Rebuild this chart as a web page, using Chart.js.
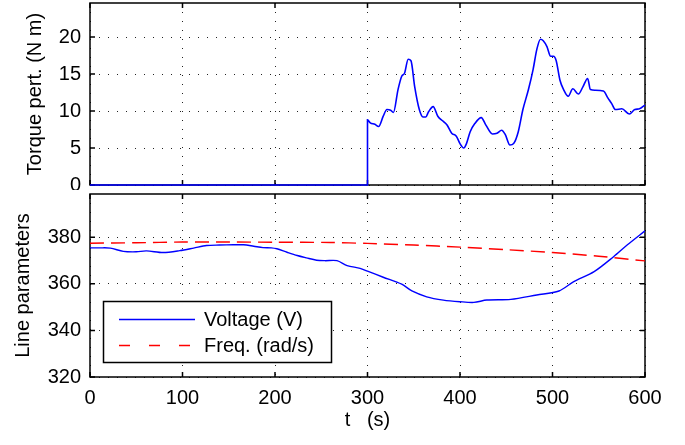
<!DOCTYPE html>
<html lang="en">
<head>
    <meta charset="UTF-8">
    <title>Torque perturbation and line parameters</title>
    <script src="https://cdn.jsdelivr.net/npm/chart.js"></script>
    <style>
        body {
            margin: 0;
            background: #fff;
            width: 685px;
            height: 445px;
            position: relative;
            overflow: hidden;
        }
        canvas {
            position: absolute;
            left: 0;
        }
        #topChart { top: 0; }
        #bottomChart { top: 190px; }
    </style>
</head>
<body>
    <canvas id="topChart" width="685" height="190"></canvas>
    <canvas id="bottomChart" width="685" height="255"></canvas>

    <script>
        // tick labels
        const timeTicks = [0, 100, 200, 300, 400, 500, 600];
        const torqueTicks = [0, 5, 10, 15, 20];
        const lineTicks = [320, 340, 360, 380];

        // torque perturbation (N m) vs time (s)
        const torqueT = [0, 300, 300, 303, 308, 312, 317, 321, 325, 328, 333, 337, 340, 344, 347, 351, 356, 360, 363, 366,
            371, 376, 382, 386, 391, 396, 400, 404, 407, 411, 416, 423, 428, 435, 440, 445, 449, 454, 458, 463,
            468, 474, 479, 483, 487, 490, 494, 498, 501, 504, 508, 512, 517, 522, 528, 533, 538, 541, 546, 555,
            560, 564, 568, 575, 583, 589, 594, 600];
        const torqueV = [0, 0, 8.8, 8.4, 8.2, 7.9, 9.3, 10.2, 10.1, 9.8, 12.9, 14.7, 15.1, 17.0, 16.8, 13.3, 10.2, 9.2, 9.2, 9.9,
            10.6, 9.3, 8.6, 8.1, 7.0, 6.6, 5.6, 5.0, 5.6, 7.2, 8.3, 9.1, 8.1, 6.9, 7.0, 7.4, 6.8, 5.4, 5.6, 7.2,
            10.2, 12.9, 15.6, 18.3, 19.7, 19.5, 18.7, 17.4, 17.4, 16.8, 14.2, 12.9, 12.0, 13.0, 12.3, 13.3, 14.4, 12.9, 12.8, 12.7,
            11.75, 11.0, 10.2, 10.3, 9.6, 10.2, 10.3, 10.8];

        // voltage (V) vs time (s)
        const voltT = [0, 10, 22, 36, 50, 61, 79, 97, 112, 126, 140, 155, 166, 177, 187, 196, 202, 213, 224, 234,
            245, 254, 267, 278, 292, 300, 317, 337, 348, 364, 382, 400, 415, 429, 455, 483, 507, 523, 545, 566, 581, 600];
        const voltV = [375.4, 375.4, 375.3, 373.9, 373.7, 374.1, 373.4, 374.2, 375.3, 376.4, 376.6, 376.7, 376.7, 376.1, 375.5, 375.4, 375.0, 373.5, 372.1, 371.1,
            370.1, 369.9, 369.9, 367.8, 366.6, 365.4, 362.8, 359.8, 356.9, 354.4, 353.0, 352.3, 352.0, 353.0, 353.3, 355.2, 356.9, 360.9, 365.2, 371.6, 376.7, 382.7];

        // frequency (rad/s) vs time (s)
        const freqT = [0, 50, 100, 150, 200, 260, 300, 350, 400, 450, 500, 550, 600];
        const freqV = [377.4, 377.6, 377.9, 377.9, 377.8, 377.7, 377.3, 376.6, 375.7, 374.6, 373.4, 371.8, 369.8];

        const FONT = { family: '"Liberation Sans", Arial, sans-serif', size: 20 };
        Chart.defaults.font.family = FONT.family;
        Chart.defaults.color = '#000';

        function points(t, v) {
            return t.map((x, i) => ({ x: x, y: v[i] }));
        }

        function useTicks(list) {
            return function (scale) {
                scale.ticks = list.map(v => ({ value: v }));
            };
        }

        // box round the plot area and small inward ticks, MATLAB style
        const framePlugin = {
            id: 'frame',
            beforeDatasetsDraw(chart) {
                const { ctx, chartArea: a, scales } = chart;
                ctx.save();
                ctx.strokeStyle = '#000';
                ctx.lineWidth = 1.5;
                ctx.beginPath();
                scales.x.ticks.forEach(t => {
                    const px = scales.x.getPixelForValue(t.value);
                    ctx.moveTo(px, a.bottom); ctx.lineTo(px, a.bottom - 5);
                    ctx.moveTo(px, a.top); ctx.lineTo(px, a.top + 5);
                });
                scales.y.ticks.forEach(t => {
                    const py = scales.y.getPixelForValue(t.value);
                    ctx.moveTo(a.left, py); ctx.lineTo(a.left + 5, py);
                    ctx.moveTo(a.right, py); ctx.lineTo(a.right - 5, py);
                });
                ctx.stroke();
                ctx.strokeRect(a.left, a.top, a.right - a.left, a.bottom - a.top);
                ctx.restore();
            }
        };

        // legend box inside the lower plot
        const boxLegend = {
            id: 'boxLegend',
            afterDraw(chart) {
                const ctx = chart.ctx;
                const box = { x: 103.5, y: 111.5, w: 228, h: 61 };
                ctx.save();
                ctx.fillStyle = '#fff';
                ctx.fillRect(box.x, box.y, box.w, box.h);
                ctx.strokeStyle = '#000';
                ctx.lineWidth = 1.5;
                ctx.strokeRect(box.x, box.y, box.w, box.h);
                const rows = [129.5, 155.5];
                chart.data.datasets.forEach((ds, i) => {
                    const y = rows[i];
                    ctx.strokeStyle = ds.borderColor;
                    ctx.lineWidth = ds.borderWidth;
                    ctx.setLineDash(ds.borderDash && ds.borderDash.length ? [11, 19] : []);
                    ctx.beginPath();
                    ctx.moveTo(119, y);
                    ctx.lineTo(195, y);
                    ctx.stroke();
                    ctx.setLineDash([]);
                    ctx.fillStyle = '#000';
                    ctx.font = FONT.size + 'px ' + FONT.family;
                    ctx.textBaseline = 'middle';
                    ctx.textAlign = 'left';
                    ctx.fillText(ds.label, 204, y + 1);
                });
                ctx.restore();
            }
        };

        function xAxis(showLabels, height) {
            return {
                type: 'linear',
                min: 0,
                max: 600,
                afterBuildTicks: useTicks(timeTicks),
                afterFit(scale) {
                    scale.height = height;
                    scale.paddingLeft = 0;
                    scale.paddingRight = 0;
                },
                grid: { color: '#222', lineWidth: 1, drawTicks: false },
                border: { display: false, dash: [1, 8] },
                ticks: { display: showLabels, padding: 9, font: FONT, maxRotation: 0 },
                title: {
                    display: showLabels,
                    text: 't   (s)',
                    font: FONT,
                    padding: { top: 0, bottom: 13 }
                }
            };
        }

        function yAxis(min, max, list, title, titlePad) {
            return {
                min: min,
                max: max,
                afterBuildTicks: useTicks(list),
                afterFit(scale) {
                    scale.width = 90;
                    scale.paddingTop = 0;
                    scale.paddingBottom = 0;
                },
                grid: { color: '#222', lineWidth: 1, drawTicks: false },
                border: { display: false, dash: [1, 8] },
                ticks: { padding: 9, font: FONT },
                title: {
                    display: true,
                    text: title,
                    font: FONT,
                    padding: { top: titlePad, bottom: 0 }
                }
            };
        }

        new Chart(document.getElementById('topChart'), {
            type: 'line',
            data: {
                datasets: [{
                    label: 'Torque pert.',
                    data: points(torqueT, torqueV),
                    borderColor: '#0000ff',
                    borderWidth: 1.6,
                    pointRadius: 0,
                    cubicInterpolationMode: 'monotone',
                    clip: false
                }]
            },
            options: {
                responsive: false,
                animation: false,
                devicePixelRatio: 1,
                layout: { padding: { top: 3, right: 40, left: 0, bottom: 0 } },
                plugins: { legend: { display: false }, tooltip: { enabled: false } },
                scales: {
                    x: xAxis(false, 5),
                    y: yAxis(0, 24.6, torqueTicks, 'Torque pert. (N m)', 23)
                }
            },
            plugins: [framePlugin]
        });

        new Chart(document.getElementById('bottomChart'), {
            type: 'line',
            data: {
                datasets: [{
                    label: 'Voltage (V)',
                    data: points(voltT, voltV),
                    borderColor: '#0000ff',
                    borderWidth: 1.4,
                    pointRadius: 0,
                    tension: 0.3
                }, {
                    label: 'Freq. (rad/s)',
                    data: points(freqT, freqV),
                    borderColor: '#ff0000',
                    borderWidth: 1.4,
                    borderDash: [14, 7],
                    pointRadius: 0,
                    tension: 0.3
                }]
            },
            options: {
                responsive: false,
                animation: false,
                devicePixelRatio: 1,
                layout: { padding: { top: 4, right: 40, left: 0, bottom: 0 } },
                plugins: { legend: { display: false }, tooltip: { enabled: false } },
                scales: {
                    x: xAxis(true, 68),
                    y: yAxis(320, 398.5, lineTicks, 'Line parameters', 11.5)
                }
            },
            plugins: [framePlugin, boxLegend]
        });
    </script>
</body>
</html>
